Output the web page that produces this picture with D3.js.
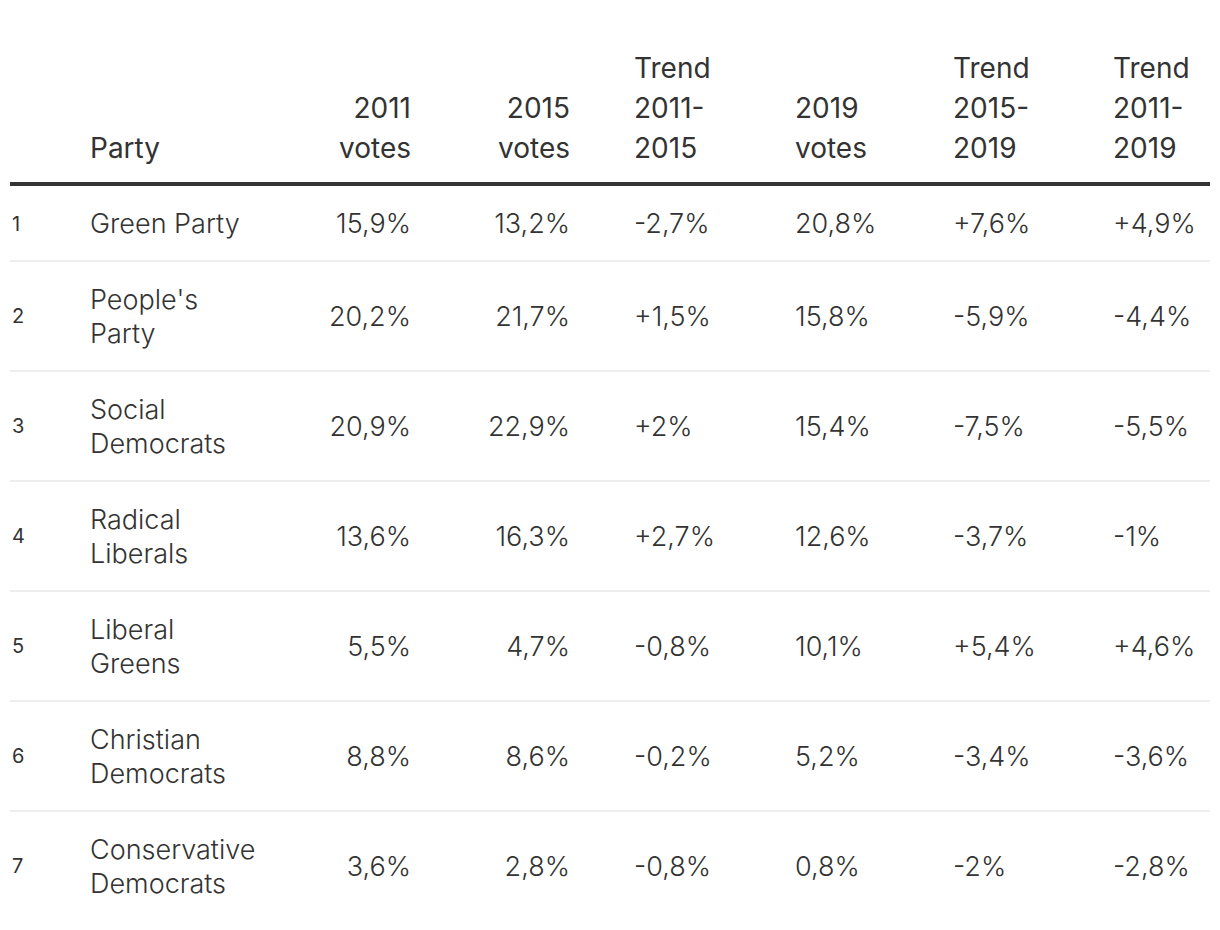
<!DOCTYPE html>
<html>
<head>
<meta charset="utf-8">
<script src="https://cdn.jsdelivr.net/npm/d3@7"></script>
<style>
  html, body { margin: 0; padding: 0; background: #fff; }
  svg { display: block; }
  text { font-family: Inter, Roboto, "Noto Sans", sans-serif; fill: #333; }
</style>
</head>
<body>
<svg id="chart" width="1220" height="930"></svg>
<script>
// ---- data ----
const ranks = [1, 2, 3, 4, 5, 6, 7];
const parties = ["Green Party", "People's Party", "Social Democrats", "Radical Liberals", "Liberal Greens", "Christian Democrats", "Conservative Democrats"];
const votes2011 = [15.9, 20.2, 20.9, 13.6, 5.5, 8.8, 3.6];
const votes2015 = [13.2, 21.7, 22.9, 16.3, 4.7, 8.6, 2.8];
const trend2011_2015 = [-2.7, 1.5, 2, 2.7, -0.8, -0.2, -0.8];
const votes2019 = [20.8, 15.8, 15.4, 12.6, 10.1, 5.2, 0.8];
const trend2015_2019 = [7.6, -5.9, -7.5, -3.7, 5.4, -3.4, -2];
const trend2011_2019 = [4.9, -4.4, -5.5, -1, 4.6, -3.6, -2.8];
const headers = [[""], ["Party"], ["2011", "votes"], ["2015", "votes"], ["Trend", "2011-", "2015"], ["2019", "votes"], ["Trend", "2015-", "2019"], ["Trend", "2011-", "2019"]];

// ---- layout ----
const svg = d3.select("#chart");
const left = 10, right = 1210;
const fontSize = 27, headSize = 28, lineH = 35, headLineH = 40, pad = 20;
const cols = [
  {x: 12,   anchor: "start"},
  {x: 90,   anchor: "start"},
  {x: 411,  anchor: "end"},
  {x: 570,  anchor: "end"},
  {x: 634,  anchor: "start"},
  {x: 795,  anchor: "start"},
  {x: 953,  anchor: "start"},
  {x: 1113, anchor: "start"}
];
const partyMaxW = 168;

const fmtNum = v => String(v).replace(".", ",") + "%";
const fmtTrend = v => (v > 0 ? "+" : "") + String(v).replace(".", ",") + "%";

// ---- header ----
const headBottomBaseline = 158;
const hg = svg.append("g");
headers.forEach((lines, ci) => {
  lines.forEach((ln, li) => {
    hg.append("text")
      .attr("x", cols[ci].x)
      .attr("y", headBottomBaseline - (lines.length - 1 - li) * headLineH)
      .attr("text-anchor", cols[ci].anchor)
      .style("font-size", headSize + "px")
      .style("font-weight", 400)
      .text(ln);
  });
});
svg.append("rect").attr("x", left).attr("y", 182).attr("width", right - left).attr("height", 4).attr("fill", "#333");

// ---- wrap party names ----
const measure = svg.append("text").style("font-size", fontSize + "px").style("font-weight", 300);
function wrap(str) {
  const words = str.split(" ");
  const out = [];
  let cur = "";
  words.forEach(w => {
    const test = cur ? cur + " " + w : w;
    measure.text(test);
    if (measure.node().getComputedTextLength() > partyMaxW && cur) { out.push(cur); cur = w; }
    else cur = test;
  });
  if (cur) out.push(cur);
  return out;
}
const wrapped = parties.map(wrap);
measure.remove();

const rows = ranks.map((r, i) => ({
  rank: r, lines: wrapped[i],
  cells: [fmtNum(votes2011[i]), fmtNum(votes2015[i]), fmtTrend(trend2011_2015[i]), fmtNum(votes2019[i]), fmtTrend(trend2015_2019[i]), fmtTrend(trend2011_2019[i])]
}));
const rowH = rows.map(d => d.lines.length * lineH + 2 * pad);
const rowTop = rowH.map((h, i) => 186 + d3.sum(rowH.slice(0, i)));

const rg = svg.append("g").selectAll("g").data(rows).join("g")
  .attr("transform", (d, i) => `translate(0,${rowTop[i]})`);

rg.each(function(d, i) {
  const g = d3.select(this);
  const h = rowH[i];
  const cy = h / 2;
  const capOff = fontSize * 0.727 / 2;
  if (i < rows.length - 1) {
    g.append("rect").attr("x", left).attr("y", h - 1).attr("width", right - left).attr("height", 2).attr("fill", "#eeeeee");
  }
  g.append("text").attr("x", cols[0].x).attr("y", cy + 20 * 0.727 / 2)
    .style("font-size", "20px").style("font-weight", 400).text(d.rank);
  const n = d.lines.length;
  d.lines.forEach((ln, li) => {
    g.append("text").attr("x", cols[1].x)
      .attr("y", cy + capOff + (li - (n - 1) / 2) * 34)
      .style("font-size", fontSize + "px").style("font-weight", 300).text(ln);
  });
  d.cells.forEach((c, ci) => {
    g.append("text").attr("x", cols[ci + 2].x).attr("y", cy + capOff)
      .attr("text-anchor", cols[ci + 2].anchor)
      .style("font-size", fontSize + "px").style("font-weight", 300).text(c);
  });
});
</script>
</body>
</html>
